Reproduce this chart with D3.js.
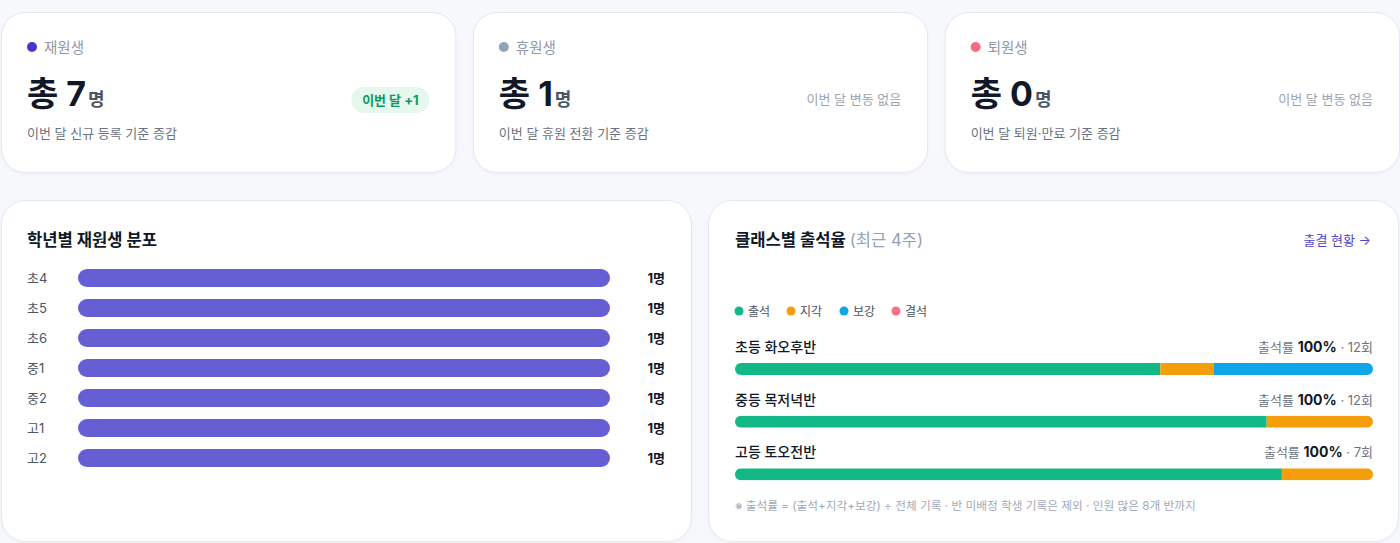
<!DOCTYPE html>
<html><head><meta charset="utf-8">
<script src="https://cdn.jsdelivr.net/npm/d3@7"></script>
<style>
html,body{margin:0;padding:0;background:#f7f8fb;}
svg{display:block;font-family:Inter,"Noto Sans CJK KR",sans-serif;}
</style></head><body>
<svg id="c" width="1400" height="543"></svg>
<script>
// ---- data ----
const summaryLabels = ["재원생", "휴원생", "퇴원생"];
const summaryTotals = [7, 1, 0];
const summaryChanges = ["이번 달 +1", "이번 달 변동 없음", "이번 달 변동 없음"];
const summaryNotes = ["이번 달 신규 등록 기준 증감", "이번 달 휴원 전환 기준 증감", "이번 달 퇴원·만료 기준 증감"];
const summaryDots = ["#4338ca", "#94a3b8", "#f76b80"];

const grades = ["초4", "초5", "초6", "중1", "중2", "고1", "고2"];
const gradeCounts = [1, 1, 1, 1, 1, 1, 1];

const classes = ["초등 화오후반", "중등 목저녁반", "고등 토오전반"];
const statusKeys = ["출석", "지각", "보강", "결석"];
const present = [8, 10, 6];
const late = [1, 2, 1];
const makeup = [3, 0, 0];
const absent = [0, 0, 0];
const rates = [100, 100, 100];
const statusColors = ["#12b886", "#f59e0b", "#0ea5e9", "#f87189"];

// ---- drawing ----
const svg = d3.select("#c");
const defs = svg.append("defs");
const filt = defs.append("filter").attr("id","sh").attr("x","-5%").attr("y","-5%").attr("width","110%").attr("height","115%");
filt.append("feDropShadow").attr("dx",0).attr("dy",1).attr("stdDeviation",1.5).attr("flood-color","#0f172a").attr("flood-opacity",0.04);

function card(x,y,w,h){
  svg.append("rect").attr("x",x).attr("y",y).attr("width",w).attr("height",h)
    .attr("rx",24).attr("fill","#fff").attr("stroke","#e3e8ef").attr("stroke-width",1).attr("filter","url(#sh)");
}

// summary cards
const cardX = d3.scaleBand().domain(summaryLabels).range([1, 1399]).paddingInner(0.037).paddingOuter(0);
summaryLabels.forEach((lab,i)=>{
  const x0 = cardX(lab), w = cardX.bandwidth();
  card(x0+0.5, 12.5, w, 160);
  const g = svg.append("g").attr("transform",`translate(${x0},0)`);
  g.append("circle").attr("cx",31).attr("cy",47).attr("r",5).attr("fill",summaryDots[i]);
  g.append("text").attr("x",43).attr("y",52.5).attr("font-size",14.5).attr("fill","#8e99a8").text(lab);
  const t = g.append("text").attr("x",26).attr("y",106).attr("fill","#111827").attr("font-weight",700);
  t.append("tspan").attr("font-size",34).text("총 " + summaryTotals[i]);
  t.append("tspan").attr("font-size",18).attr("fill","#4b5563").attr("dx",2).text("명");
  g.append("text").attr("x",26).attr("y",138).attr("font-size",13).attr("fill","#6b7280").text(summaryNotes[i]);
  const rx = w - 26;
  if (summaryChanges[i].includes("+")) {
    g.append("rect").attr("x",rx-78).attr("y",87).attr("width",78).attr("height",26).attr("rx",13).attr("fill","#e6f8ee");
    g.append("text").attr("x",rx-39).attr("y",104.5).attr("text-anchor","middle").attr("font-size",13)
      .attr("font-weight",700).attr("fill","#0b9a5e").text(summaryChanges[i]);
  } else {
    g.append("text").attr("x",rx).attr("y",104).attr("text-anchor","end").attr("font-size",13)
      .attr("fill","#9aa3b2").text(summaryChanges[i]);
  }
});

// left panel: grade distribution
card(1.5, 200.5, 690, 341);
svg.append("text").attr("x",27).attr("y",246).attr("font-size",16.6).attr("font-weight",700).attr("fill","#111827").text("학년별 재원생 분포");
const gx = d3.scaleLinear().domain([0, d3.max(gradeCounts)]).range([78, 610]);
const gy = d3.scaleBand().domain(grades).range([263, 473]).paddingInner(0.4).paddingOuter(0.2);
const gr = svg.append("g").selectAll("g").data(grades).join("g");
gr.append("text").attr("x",27).attr("y",g=>gy(g)+gy.bandwidth()/2+4.5).attr("font-size",13).attr("fill","#4b5563").text(g=>g);
gr.append("rect").attr("x",gx(0)).attr("y",g=>gy(g)).attr("height",gy.bandwidth())
  .attr("width",(g,i)=>gx(gradeCounts[i])-gx(0)).attr("rx",gy.bandwidth()/2).attr("fill","#665fd4");
gr.append("text").attr("x",665).attr("y",g=>gy(g)+gy.bandwidth()/2+4.5).attr("text-anchor","end")
  .attr("font-size",13).attr("font-weight",700).attr("fill","#111827").text((g,i)=>gradeCounts[i]+"명");

// right panel: attendance
card(708.5, 200.5, 690, 341);
const tt = svg.append("text").attr("x",735).attr("y",246).attr("font-size",16.6).attr("font-weight",700).attr("fill","#111827");
tt.append("tspan").text("클래스별 출석율 ");
tt.append("tspan").attr("font-weight",400).attr("fill","#94a0b4").text("(최근 4주)");
svg.append("text").attr("x",1371).attr("y",245).attr("text-anchor","end").attr("font-size",13).attr("fill","#4f46c8").text("출결 현황 →");

// legend
const lx = [739, 791, 844, 896];
statusKeys.forEach((k,i)=>{
  svg.append("circle").attr("cx",lx[i]).attr("cy",311).attr("r",4.5).attr("fill",statusColors[i]);
  svg.append("text").attr("x",lx[i]+9).attr("y",315.5).attr("font-size",12).attr("fill","#4b5563").text(k);
});

const rows = classes.map((c,i)=>({cls:c, 출석:present[i], 지각:late[i], 보강:makeup[i], 결석:absent[i], total:present[i]+late[i]+makeup[i]+absent[i], rate:rates[i]}));
const stacked = d3.stack().keys(statusKeys).offset(d3.stackOffsetExpand)(rows);
const cx = d3.scaleLinear().domain([0,1]).range([735, 1373]);
const cy = d3.scaleBand().domain(classes).range([337, 495]).paddingInner(0).paddingOuter(0);
const barTop = c => cy(c) + 26;
const barH = 12;
rows.forEach((r,i)=>{
  const y0 = cy(r.cls);
  svg.append("text").attr("x",735).attr("y",y0+15).attr("font-size",14).attr("font-weight",500).attr("fill","#111827").text(r.cls);
  const rt = svg.append("text").attr("x",1373).attr("y",y0+15).attr("text-anchor","end").attr("font-size",13).attr("fill","#6b7280");
  rt.append("tspan").text("출석률 ");
  rt.append("tspan").attr("font-weight",700).attr("fill","#111827").attr("font-size",14).text(r.rate+"%");
  rt.append("tspan").text(" · " + r.total + "회");
  defs.append("clipPath").attr("id","cl"+i).append("rect")
    .attr("x",cx(0)).attr("y",barTop(r.cls)).attr("width",cx(1)-cx(0)).attr("height",barH).attr("rx",barH/2);
});
svg.append("g").selectAll("g").data(stacked).join("g").attr("fill",(s,i)=>statusColors[i])
  .selectAll("rect").data(s=>s).join("rect")
  .attr("clip-path",(d,j)=>`url(#cl${j})`)
  .attr("x",d=>cx(d[0])).attr("width",d=>cx(d[1])-cx(d[0]))
  .attr("y",d=>barTop(d.data.cls)).attr("height",barH);

svg.append("text").attr("x",735).attr("y",510).attr("font-size",11.7).attr("fill","#a0a9b8")
  .text("※ 출석률 = (출석+지각+보강) ÷ 전체 기록 · 반 미배정 학생 기록은 제외 · 인원 많은 8개 반까지");
</script>
</body></html>
